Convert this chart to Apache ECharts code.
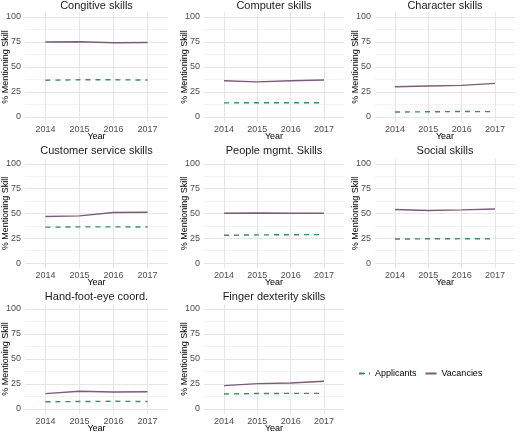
<!DOCTYPE html>
<html>
<head>
<meta charset="utf-8">
<script src="https://cdn.jsdelivr.net/npm/echarts@6/dist/echarts.min.js"></script>
<style>
html,body{margin:0;padding:0;background:#fff;}
#chart{width:520px;height:433px;}
</style>
</head>
<body>
<div id="chart"></div>
<script>
// ---- data ----
const years = [2014, 2015, 2016, 2017];
const skills = ['Congitive skills', 'Computer skills', 'Character skills',
  'Customer service skills', 'People mgmt. Skills', 'Social skills',
  'Hand-foot-eye coord.', 'Finger dexterity skills'];
const yTicks = [0, 25, 50, 75, 100];

const vacCognitive = [75.0, 75.2, 74.2, 74.5];
const appCognitive = [36.8, 37.2, 37.2, 37.0];
const vacComputer = [36.3, 35.1, 36.2, 37.0];
const appComputer = [14.1, 14.3, 14.3, 14.2];
const vacCharacter = [30.2, 31.0, 31.6, 33.6];
const appCharacter = [5.0, 5.2, 5.5, 5.3];
const vacCustomer = [47.0, 47.6, 51.0, 51.3];
const appCustomer = [36.2, 36.5, 36.5, 36.4];
const vacPeople = [50.2, 50.5, 50.3, 50.2];
const appPeople = [28.0, 28.4, 28.6, 28.7];
const vacSocial = [54.0, 53.0, 53.7, 54.6];
const appSocial = [24.2, 24.5, 24.6, 24.4];
const vacHand = [15.4, 17.7, 17.0, 17.3];
const appHand = [7.2, 7.5, 7.7, 7.5];
const vacFinger = [23.4, 25.4, 26.0, 27.7];
const appFinger = [15.0, 15.5, 15.6, 15.6];

const vacancies = [vacCognitive, vacComputer, vacCharacter, vacCustomer, vacPeople, vacSocial, vacHand, vacFinger];
const applicants = [appCognitive, appComputer, appCharacter, appCustomer, appPeople, appSocial, appHand, appFinger];

// ---- layout ----
const colLeft = [25, 204, 375];
const colWidth = [143, 140, 140];
const rowTop = [12, 159, 304];
const rowHeight = [110, 109, 110];
const titleCenter = [6, 151, 297];
const FONT = 'Liberation Sans, Arial, Helvetica, sans-serif';
const appColor = '#3a8a6b';
const vacColor = '#7b5c7b';

const yGrid = [];
yTicks.forEach((t, i) => {
  yGrid.push(t);
  if (i < yTicks.length - 1) yGrid.push((t + yTicks[i + 1]) / 2);
});

const option = {
  animation: false,
  backgroundColor: '#fff',
  title: [], grid: [], xAxis: [], yAxis: [], series: [],
  legend: {
    data: ['Applicants', 'Vacancies'],
    left: 353, top: 364,
    itemWidth: 11, itemHeight: 1.6, itemGap: 8,
    textStyle: { fontSize: 9, color: '#000', fontFamily: FONT }
  }
};

skills.forEach((name, i) => {
  const r = Math.floor(i / 3), c = i % 3;
  option.grid.push({
    left: colLeft[c], width: colWidth[c], top: rowTop[r], height: rowHeight[r],
    containLabel: false, outerBoundsMode: 'none'
  });
  option.title.push({
    text: name,
    left: colLeft[c] + colWidth[c] / 2,
    top: titleCenter[r] - 6,
    textAlign: 'center',
    padding: 0,
    textStyle: { fontSize: 11, fontWeight: 'normal', color: '#1a1a1a', fontFamily: FONT }
  });
  option.xAxis.push({
    gridIndex: i, type: 'value', min: 2013.4, max: 2017.6,
    axisLine: { show: false },
    axisTick: { show: false, customValues: years },
    axisLabel: { customValues: years, margin: 3, fontSize: 9, color: '#4d4d4d', fontFamily: FONT,
      formatter: v => String(v) },
    splitLine: { show: true, lineStyle: { color: '#e6e6e6', width: 1 } },
    name: 'Year', nameLocation: 'middle', nameGap: 10, nameMoveOverlap: false,
    nameTextStyle: { fontSize: 9, color: '#000', fontFamily: FONT }
  });
  option.yAxis.push({
    gridIndex: i, type: 'value', min: -5, max: 105,
    axisLine: { show: false },
    axisTick: { show: false, customValues: yGrid },
    axisLabel: { customValues: yTicks, margin: 4, fontSize: 9, color: '#4d4d4d', fontFamily: FONT },
    splitLine: { show: true, lineStyle: { color: ['#e6e6e6', '#f3f3f3'], width: 1 } },
    name: '% Mentioning Skill', nameLocation: 'middle', nameGap: 15, nameRotate: 90, nameMoveOverlap: false,
    nameTextStyle: { fontSize: 9, color: '#000', fontFamily: FONT }
  });
  option.series.push({
    name: 'Applicants', type: 'line', xAxisIndex: i, yAxisIndex: i,
    data: years.map((y, j) => [y, applicants[i][j]]),
    symbol: 'none', color: appColor,
    legendIcon: 'path://M0,0h4v1h-4z M7,0h4v1h-4z',
    lineStyle: { color: appColor, width: 1.4, type: [5, 5] }
  });
  option.series.push({
    name: 'Vacancies', type: 'line', xAxisIndex: i, yAxisIndex: i,
    data: years.map((y, j) => [y, vacancies[i][j]]),
    symbol: 'none', color: vacColor,
    legendIcon: 'rect',
    lineStyle: { color: vacColor, width: 1.4 }
  });
});

const chart = echarts.init(document.getElementById('chart'), null, { renderer: 'canvas' });
chart.setOption(option);
</script>
</body>
</html>
